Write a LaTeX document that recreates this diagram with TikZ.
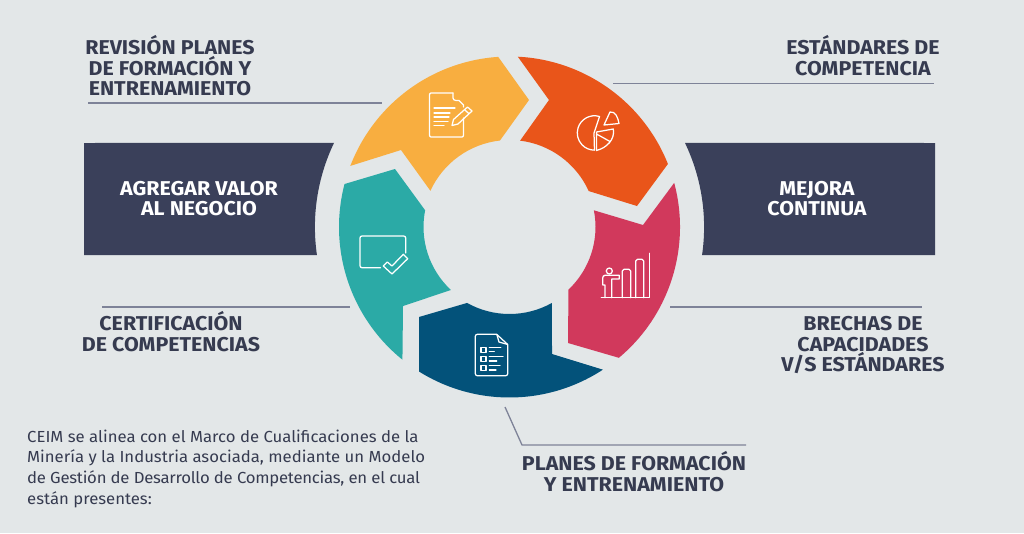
\documentclass[tikz,border=0pt]{standalone}
\usepackage{fontspec}
\setmainfont[FakeStretch=1.07]{Fira Sans}
\newfontfamily\bodyfam[FakeStretch=1.045]{Fira Sans}
\newfontfamily\bodytight[FakeStretch=1.045,LetterSpace=-1.55]{Fira Sans}
\usetikzlibrary{calc}
\definecolor{bgc}{HTML}{E3E7E8}
\definecolor{navy}{HTML}{3A405A}
\definecolor{txt}{HTML}{363B50}
\definecolor{rulec}{HTML}{7E8398}
\definecolor{cyellow}{HTML}{F8AE40}
\definecolor{corange}{HTML}{E9551A}
\definecolor{cteal}{HTML}{2BAAA6}
\definecolor{cblue}{HTML}{03527A}
\definecolor{ccrim}{HTML}{D1395C}
\tikzset{
  x=1pt,y=1pt,
  heading/.style={align=center,inner sep=0pt,anchor=north,text=txt,font=\fontsize{20}{20.7}\selectfont\bfseries},
  boxtext/.style={align=center,inner sep=0pt,anchor=north,text=white,font=\fontsize{20}{20.3}\selectfont\bfseries},
  bodytext/.style={align=left,inner sep=0pt,anchor=north west,text=txt,font=\bodyfam\fontsize{16}{20.7}\selectfont},
  leader/.style={draw=rulec,line width=1.3pt},
  icon/.style={draw=white,line width=1.25pt,line join=round,line cap=round},
}
\begin{document}
\begin{tikzpicture}
\useasboundingbox (0,-533) rectangle (1024,0);
\fill[bgc] (0,-533) rectangle (1024,0);
\coordinate (c) at (509.5,-227);
% dark boxes
\fill[navy] (84,-143) -- ($(c)+(154.4:194.6)$) arc[start angle=154.4,end angle=188.3,radius=194.6] -- (84,-255) -- cycle;
\fill[navy] (935,-143) -- ($(c)+(25.6:194.6)$) arc[start angle=25.6,end angle=-8.3,radius=194.6] -- (935,-255) -- cycle;
% ring
\fill[corange] ($(c)+(87.2:170.5)$) arc[start angle=87.2,end angle=21.7,radius=170.5] -- (637,-206) -- ($(c)+(24.4:87)$) arc[start angle=24.4,end angle=83,radius=87] -- (549,-100) -- cycle;
\fill[cyellow] ($(c)+(93.8:170.5)$) arc[start angle=93.8,end angle=159,radius=170.5] -- (401,-150) -- ($(c)+(155.4:87)$) arc[start angle=155.4,end angle=96.3,radius=87] -- (529,-100) -- cycle;
\fill[cteal] ($(c)+(165.4:170.5)$) arc[start angle=165.4,end angle=231.1,radius=170.5] -- (403,-306) -- ($(c)+(227.1:86)$) arc[start angle=227.1,end angle=168.8,radius=86] -- (395,-169) -- cycle;
\fill[cblue] ($(c)+(238:170.5)$) arc[start angle=238,end angle=303.2,radius=170.5] -- (552,-354) -- ($(c)+(299.2:87)$) arc[start angle=299.2,end angle=240.8,radius=87] -- (419,-317) -- cycle;
\fill[ccrim] ($(c)+(15:170.5)$) arc[start angle=15,end angle=-50.1,radius=170.5] -- (568,-343) -- ($(c)+(-46.7:86)$) arc[start angle=-46.7,end angle=11.2,radius=86] -- (643,-225) -- cycle;
% leaders
\coordinate (l1a) at (88,-103); \coordinate (l1b) at (382,-103);
\coordinate (l2a) at (613,-83.5); \coordinate (l2b) at (934,-83.5);
\coordinate (l3a) at (102,-307); \coordinate (l3b) at (350,-307);
\coordinate (l4a) at (670,-307); \coordinate (l4b) at (922,-307);
\coordinate (l5a) at (505,-407); \coordinate (l5m) at (522,-445); \coordinate (l5b) at (746,-445);
\draw[leader] (l1a) -- (l1b);
\draw[leader] (l2a) -- (l2b);
\draw[leader] (l3a) -- (l3b);
\draw[leader] (l4a) -- (l4b);
\draw[leader] (l5a) -- (l5m) -- (l5b);
% labels
\node[heading] (revision) at (170,-35) {REVISIÓN PLANES\\DE FORMACIÓN Y\\ENTRENAMIENTO};
\node[heading] (estandares) at (863,-35) {ESTÁNDARES DE\\COMPETENCIA};
\node[boxtext] (agregar) at (199,-181) {AGREGAR VALOR\\AL NEGOCIO};
\node[boxtext] (mejora) at (817,-181) {MEJORA\\CONTINUA};
\node[heading] (cert) at (171,-311) {CERTIFICACIÓN\\DE COMPETENCIAS};
\node[heading] (brechas) at (863,-316) {BRECHAS DE\\CAPACIDADES\\V/S ESTÁNDARES};
\node[heading] (planes) at (634,-451) {PLANES DE FORMACIÓN\\Y ENTRENAMIENTO};
\node[bodytext] (body) at (27,-429.5) {CEIM se alinea con el Marco de Cualificaciones de la\\Minería y la Industria asociada, mediante un Modelo\\{\bodytight de Gestión de Desarrollo de Competencias, en el cual}\\están presentes:};
% icon: document + pencil
\draw[icon] (453,-93) -- (431,-93) to[out=180,in=90] (429.5,-95) -- (429.5,-135) to[out=270,in=180] (431,-137) -- (462,-137) to[out=0,in=270] (463.5,-135) -- (463.5,-118);
\draw[icon] (453,-93) -- (453,-98) to[out=270,in=180] (456,-100.5) -- (459,-100.5) -- (463.5,-105) -- (463.5,-107);
\draw[icon] (434,-108) -- (455,-108) (434,-113) -- (450,-113) (434,-117) -- (449,-117) (434,-121.5) -- (448,-121.5) (434,-125.5) -- (444,-125.5);
\draw[icon] (452,-125.5) -- (453.5,-119.5) -- (467.5,-107) -- (472,-111) -- (458,-124) -- cycle (464.5,-109.5) -- (469,-113.8);
% icon: pie
\draw[icon] (599.5,-116.5) arc[start angle=73,end angle=270,radius=17.2] -- (594,-133) -- cycle;
\draw[icon] (596.5,-132) -- (613.3,-129) to[out=-80,in=15] (596.5,-150.5) -- cycle (596.5,-134) -- (610,-141.5);
\draw[icon] (604,-125) -- (610,-112) to[out=10,in=100] (619,-123.5) -- cycle;
% icon: check
\draw[icon] (380.5,-267.7) -- (362,-267.7) to[out=180,in=270] (360,-265.7) -- (360,-238) to[out=90,in=180] (362,-236) -- (403.7,-236) to[out=0,in=90] (405.7,-238) -- (405.7,-253);
\draw[icon] (383.3,-266) -- (387.3,-262) -- (392,-266) -- (403.3,-254.3) -- (407.7,-258.7) -- (392,-274) -- cycle;
% icon: chart
\draw[icon] (601.3,-297.7) -- (649.3,-297.7) -- (649.3,-253.3);
\draw[icon] (635.7,-297.7) -- (635.7,-261) to[out=90,in=180] (637.5,-259.3) -- (642,-259.3) to[out=0,in=90] (643.7,-261) -- (643.7,-297.7);
\draw[icon] (622.3,-297.7) -- (622.3,-271) to[out=90,in=180] (624,-269.3) -- (629,-269.3) to[out=0,in=90] (630.7,-271) -- (630.7,-297.7);
\draw[icon] (609.3,-271) circle[radius=3];
\draw[icon] (605,-297.7) -- (605,-285) -- (602.7,-285) -- (602.7,-278) to[out=90,in=180] (605,-275.3) -- (619.3,-275.3) -- (619.3,-279) -- (611.7,-279) -- (611.7,-297.7);
% icon: checklist
\draw[icon] (496.7,-334.3) -- (477.3,-334.3) to[out=180,in=90] (475.3,-336.3) -- (475.3,-373.7) to[out=270,in=180] (477.3,-375.7) -- (505.7,-375.7) to[out=0,in=270] (507.7,-373.7) -- (507.7,-344.5) -- cycle;
\draw[icon] (497,-335) -- (499,-342) -- (507.2,-344.3);
\draw[icon] (481,-347.5) rectangle (486,-352.5) (481,-356.5) rectangle (486,-361.5) (481,-365.2) rectangle (486,-370.2);
\draw[icon] (489.3,-347.7) -- (500.7,-347.7) (489.3,-351.7) -- (494.3,-351.7) (489.3,-356.7) -- (503,-356.7) (489.3,-361) -- (496.7,-361) (489.3,-365.7) -- (500,-365.7) (489.3,-370) -- (496,-370);
\end{tikzpicture}
\end{document}
